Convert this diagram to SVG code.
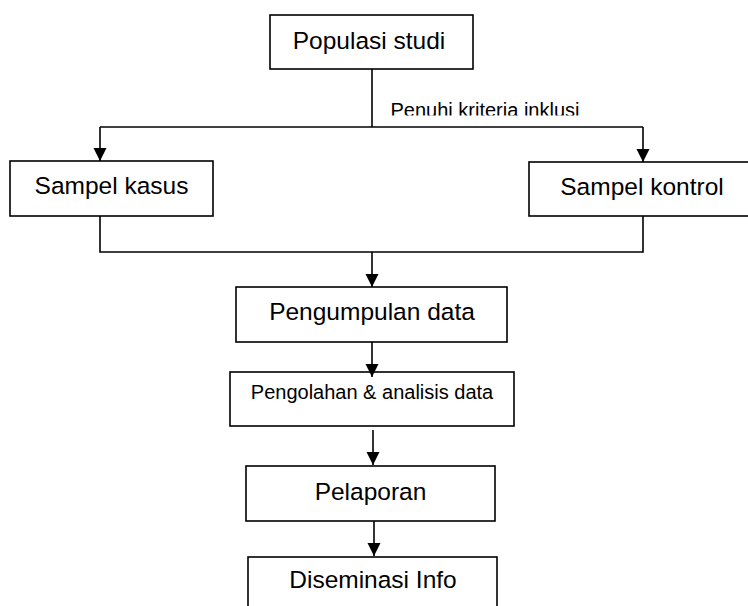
<svg xmlns="http://www.w3.org/2000/svg" width="748" height="606" viewBox="0 0 748 606">
<style>
.box{fill:#fff;stroke:#000;stroke-width:1.6}
.t{font-family:"Liberation Sans",Arial,sans-serif;font-size:24.5px;fill:#000;text-anchor:middle}
.s{font-size:20px}
.c{fill:none;stroke:#000;stroke-width:1.6}
</style>
<defs>
<marker id="ah" markerUnits="userSpaceOnUse" markerWidth="14" markerHeight="14" refX="13" refY="6.5" orient="auto">
<path d="M0,0 L13,6.5 L0,13 z" fill="#000"/>
</marker>
<clipPath id="lc"><rect x="380" y="90" width="220" height="25.5"/></clipPath>
</defs>
<rect width="748" height="606" fill="#fff"/>
<g id="populasi">
<rect class="box" x="270" y="15" width="203" height="54"/>
<text class="t" x="369" y="49">Populasi studi</text>
</g>
<g id="sampel-kasus">
<rect class="box" x="10" y="161" width="203" height="55"/>
<text class="t" x="111.5" y="194">Sampel kasus</text>
</g>
<g id="sampel-kontrol">
<rect class="box" x="529" y="162" width="222" height="54"/>
<text class="t" x="642" y="195">Sampel kontrol</text>
</g>
<g id="pengumpulan">
<rect class="box" x="236" y="287" width="271" height="55"/>
<text class="t" x="372" y="320">Pengumpulan data</text>
</g>
<g id="pengolahan">
<rect class="box" x="230" y="372" width="284" height="54"/>
<text class="t s" x="372" y="399">Pengolahan &amp; analisis data</text>
</g>
<g id="pelaporan">
<rect class="box" x="246" y="466" width="249" height="55"/>
<text class="t" x="370.5" y="500">Pelaporan</text>
</g>
<g id="diseminasi">
<rect class="box" x="248" y="557" width="249" height="60"/>
<text class="t" x="373" y="588">Diseminasi Info</text>
</g>
<g id="connectors">
<path class="c" d="M372,69 V127"/>
<path class="c" d="M100,127 H643"/>
<path class="c" d="M100,127 V161" marker-end="url(#ah)"/>
<path class="c" d="M643,127 V162" marker-end="url(#ah)"/>
<path class="c" d="M100,216 V252 H643 V216"/>
<path class="c" d="M372,252 V287" marker-end="url(#ah)"/>
<path class="c" d="M372,342 V377" marker-end="url(#ah)"/>
<path class="c" d="M373,430 V465" marker-end="url(#ah)"/>
<path class="c" d="M374,521 V556" marker-end="url(#ah)"/>
<text class="t s" x="390.5" y="116.5" style="text-anchor:start" clip-path="url(#lc)">Penuhi kriteria inklusi</text>
</g>
</svg>
